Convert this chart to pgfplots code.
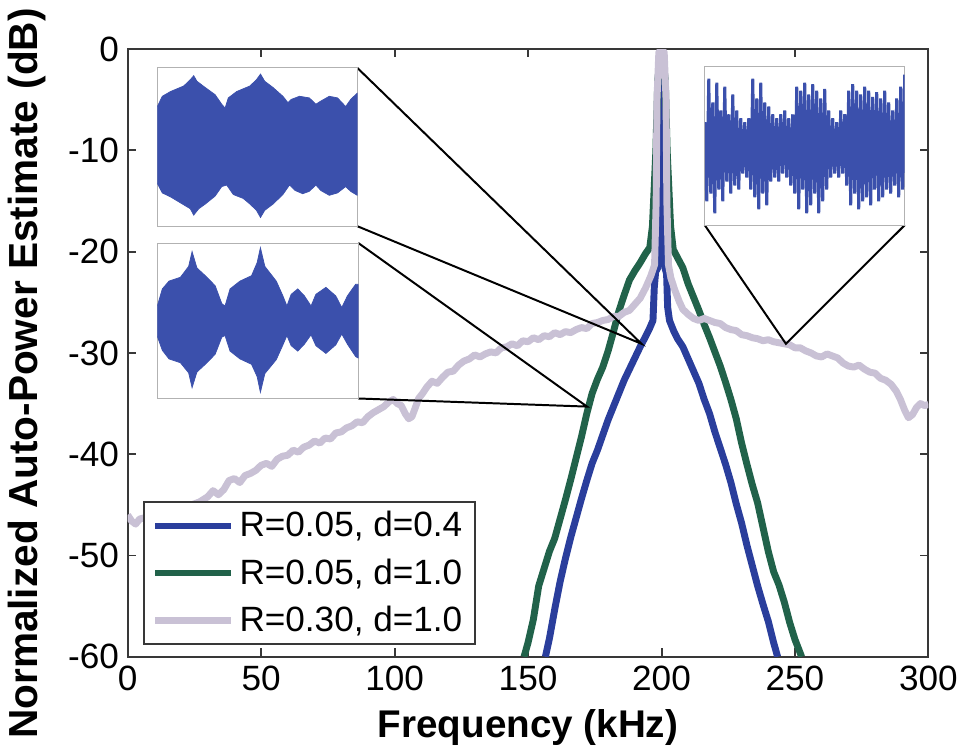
\documentclass[border=0pt]{standalone}
\usepackage{fontspec}
\setmainfont{Liberation Sans}
\usepackage{pgfplots}
\pgfplotsset{compat=1.18}
\definecolor{cblue}{HTML}{2A3E9C}
\definecolor{cgreen}{HTML}{21624A}
\definecolor{clight}{HTML}{C9C1D5}
\definecolor{wave}{HTML}{3B50AC}
\definecolor{axc}{HTML}{383838}

\pgfplotsset{
  inset/.style={scale only axis, width=80.8pt, height=64pt,
    xmin=0, xmax=1, ymin=-1, ymax=1, ticks=none,
    axis line style={black!30, line width=0.4pt},
    axis background/.style={fill=white}},
}

\begin{document}
\begin{tikzpicture}
\begin{axis}[
  scale only axis, width=323.6pt, height=245.6pt,
  xmin=0, xmax=300, ymin=-60, ymax=0,
  xtick={0,50,...,300}, ytick={-60,-50,...,0},
  xticklabels={0,50,100,150,200,250,300},
  yticklabels={-60,-50,-40,-30,-20,-10,0},
  xtick pos=both, ytick pos=both,
  xticklabel pos=lower, yticklabel pos=left,
  tick align=inside, major tick length=3.4pt,
  tick style={axc, line width=0.8pt},
  axis line style={axc, line width=0.8pt},
  tick label style={font=\fontsize{14.2}{16}\selectfont},
  xlabel={Frequency (kHz)}, ylabel={Normalized Auto-Power Estimate (dB)},
  xlabel style={font=\fontsize{15.6}{18}\selectfont\bfseries,
    at={(axis description cs:0.5,0)}, anchor=center, yshift=-28.4pt},
  ylabel style={font=\fontsize{16.4}{18}\selectfont\bfseries,
    at={(axis description cs:0,0.466)}, anchor=center, yshift=40.6pt},
  legend style={at={(axis description cs:0.0198,0.0195)}, anchor=south west,
    draw=axc, line width=0.8pt, fill=white, font=\fontsize{14.2}{16}\selectfont,
    row sep=3.4pt, inner xsep=3pt, inner ysep=1.5pt},
  legend cell align=left,
  legend image code/.code={\draw[#1, line width=2.6pt] (0pt,0pt) -- (30.8pt,0pt);},
]
\addplot[cblue, line width=2.8pt, line join=round] coordinates {
(156.5,-60)(158,-58.2)(160,-55.3)(162,-52.6)(164,-50.3)(166,-48.2)(168,-46.3)(170,-44.4)
(172,-42.6)(174,-40.9)(176,-39.6)(178,-38.1)(180,-36.6)(182,-35.3)(184,-34.0)(186,-32.7)
(188,-31.6)(190,-30.5)(192,-29.4)(194,-28.4)(195.5,-27.6)(196.8,-26.8)(197.3,-23.5)(197.8,-22.0)
(198.6,-21.6)(199.2,-10)(200,0)(200.8,-10)(201.3,-21.6)(201.9,-22.2)(202.3,-25.5)(203,-26.8)
(204.5,-27.8)(206,-28.6)(208,-29.4)(210,-30.6)(212,-31.8)(214,-33.0)(216,-34.6)(218,-36.0)
(220,-37.8)(222,-39.4)(224,-41.0)(226,-42.8)(228,-44.9)(230,-46.8)(232,-49.0)(234,-51.0)
(236,-53.0)(238,-54.8)(240,-56.5)(242,-58.6)(243.5,-60)
};
\addlegendentry{R=0.05, d=0.4}
\addplot[cgreen, line width=2.8pt, line join=round] coordinates {
(148.5,-60)(150,-58.6)(152,-56.3)(154,-53.0)(156,-51.3)(158,-49.6)(160,-48.3)(162,-46.4)
(164,-44.5)(166,-42.5)(168,-40.4)(170,-38.3)(172,-36.0)(174,-34.0)(176,-32.6)(178,-31.4)
(180,-29.8)(182,-27.9)(184,-25.9)(186,-24.3)(188,-22.8)(190,-21.9)(192,-21.1)(194,-20.2)
(195.6,-19.6)(196.6,-17.5)(197.9,-10)(198.6,-3)(200,0)(201.4,-3)(202.1,-10)(203.4,-17.5)
(204.4,-19.8)(206,-20.6)(208,-21.6)(210,-23.2)(212,-24.5)(214,-25.8)(216,-27.2)(218,-28.5)
(220,-29.9)(222,-31.3)(224,-32.9)(226,-34.6)(228,-36.5)(230,-38.9)(232,-41.0)(234,-43.0)
(236,-44.8)(238,-47.2)(240,-49.6)(242,-51.6)(244,-52.9)(246,-54.6)(248,-56.6)(250,-58.3)
(252.5,-60)
};
\addlegendentry{R=0.05, d=1.0}
\addplot[clight, line width=2.8pt, line join=round] coordinates {
(0,-46.0)(1.5,-46.6)(3,-46.9)(4.5,-46.4)(6,-46.3)(9,-46.5)(12,-46.0)(15,-46.2)(18,-45.7)
(21,-45.6)(24,-45.0)(27,-44.7)(30,-44.2)(32,-43.6)(34,-44.0)(36,-43.5)(38,-42.6)(40,-42.4)
(42,-42.8)(44,-42.1)(46,-41.9)(48,-41.6)(50,-41.1)(52,-40.9)(54,-41.2)(56,-40.5)(58,-40.2)
(60,-40.1)(62,-39.6)(64,-39.8)(66,-39.3)(68,-39.1)(70,-38.7)(72,-38.9)(74,-38.4)(76,-38.5)
(78,-37.9)(80,-37.8)(82,-37.4)(84,-37.2)(86,-36.8)(88,-36.9)(90,-36.3)(92,-35.9)(94,-35.6)
(96,-35.3)(98,-34.8)(99.5,-34.6)(101,-35.0)(102.5,-35.2)(104,-36.0)(105.3,-36.5)(106.5,-36.3)
(107.5,-35.6)(109,-34.5)(110.5,-34.0)(112,-33.4)(114,-32.8)(116,-33.0)(118,-32.4)(120,-31.9)
(122,-31.8)(124,-31.2)(126,-30.8)(128,-30.6)(130,-30.2)(132,-30.4)(134,-30.1)(136,-29.9)
(138,-30.0)(140,-29.5)(142,-29.4)(144,-29.1)(146,-29.3)(148,-28.8)(150,-28.9)(152,-28.5)
(154,-28.7)(156,-28.3)(158,-28.4)(160,-28.0)(162,-28.2)(164,-27.9)(166,-28.0)(168,-27.7)
(170,-27.5)(172,-27.6)(174,-27.1)(176,-27.0)(178,-26.8)(180,-26.7)(182,-26.4)(184,-26.4)
(186,-26.0)(188,-25.8)(190,-25.2)(192,-24.6)(194,-23.6)(196,-22.4)(197.4,-21.3)(198.0,-15)
(198.3,-5)(199.0,-0.3)(201.0,-0.3)(201.7,-5)(202.0,-15)(202.6,-21.3)(203.5,-22.6)(205,-23.8)
(206.6,-24.9)(208,-25.7)(210,-26.2)(212,-26.6)(214,-26.8)(216,-26.6)(218,-26.8)(220,-27.0)
(222,-27.1)(224,-27.5)(226,-27.7)(228,-27.8)(230,-28.2)(232,-28.3)(234,-28.5)(236,-28.6)
(238,-28.8)(240,-28.7)(242,-28.9)(244,-29.0)(246,-29.1)(248,-29.2)(250,-29.5)(252,-29.5)
(254,-29.8)(256,-30.0)(258,-30.3)(260,-30.4)(262,-30.1)(264,-30.3)(266,-30.5)(268,-31.0)
(270,-31.3)(272,-31.4)(274,-31.2)(276,-31.6)(278,-31.9)(280,-32.0)(282,-32.5)(284,-32.7)
(286,-33.1)(288,-33.8)(289.5,-34.6)(291,-35.6)(292.5,-36.4)(294,-36.1)(295.5,-35.4)
(297,-35.0)(298.5,-35.2)(300,-35.1)
};
\addlegendentry{R=0.30, d=1.0}
% zoom leader lines
\addplot[black, line width=0.8pt, forget plot] coordinates {(86.03,-1.86)(192.5,-29.1)(86.03,-17.49)};
\addplot[black, line width=0.8pt, forget plot] coordinates {(86.4,-19.15)(172.1,-35.3)(86.4,-34.5)};
\addplot[black, line width=0.8pt, forget plot] coordinates {(216.2,-17.39)(246.6,-29.1)(291.1,-17.39)};
\coordinate (ia) at (axis cs:11.12,-17.49);
\coordinate (ib) at (axis cs:11.12,-34.5);
\coordinate (ic) at (axis cs:216.2,-17.39);
\end{axis}

% inset 1
\begin{axis}[inset, at={(ia)}, anchor=south west]
\addplot[fill=wave, draw=wave, line width=0.3pt] coordinates {
(0,.51)(.025,.64)(.066,.70)(.132,.77)(.165,.85)(.182,.90)(.198,.83)(.240,.75)(.289,.66)
(.322,.54)(.339,.49)(.355,.62)(.397,.70)(.463,.77)(.496,.85)(.516,.92)(.537,.83)(.579,.75)
(.628,.64)(.653,.56)(.669,.60)(.711,.64)(.760,.62)(.793,.54)(.818,.58)(.860,.64)(.901,.62)
(.942,.51)(.967,.60)(1,.68)
(1,-.61)(.967,-.56)(.942,-.50)(.901,-.58)(.860,-.61)(.818,-.55)(.793,-.48)(.760,-.56)
(.727,-.59)(.690,-.55)(.661,-.48)(.628,-.60)(.579,-.72)(.537,-.80)(.516,-.89)(.496,-.80)
(.463,-.72)(.43,-.65)(.38,-.60)(.347,-.48)(.322,-.50)(.289,-.62)(.240,-.72)(.207,-.78)
(.182,-.86)(.165,-.78)(.132,-.73)(.066,-.63)(.025,-.58)(0,-.46)
} -- cycle;
\end{axis}

% inset 2
\begin{axis}[inset, width=81.2pt, height=62.8pt, at={(ib)}, anchor=south west]
\addplot[fill=wave, draw=wave, line width=0.3pt] coordinates {
(0,.19)(.025,.41)(.058,.51)(.115,.56)(.156,.70)(.173,.89)(.197,.68)(.247,.56)(.288,.45)
(.321,.22)(.337,.19)(.362,.41)(.411,.51)(.469,.58)(.497,.75)(.513,.94)(.535,.70)(.592,.51)
(.625,.32)(.645,.19)(.666,.34)(.699,.41)(.732,.32)(.765,.19)(.789,.34)(.839,.43)(.888,.32)
(.918,.17)(.946,.32)(.987,.47)(1,.47)
(1,-.48)(.987,-.46)(.946,-.30)(.918,-.17)(.888,-.31)(.839,-.42)(.789,-.32)(.765,-.18)
(.732,-.30)(.699,-.39)(.666,-.32)(.645,-.19)(.625,-.31)(.592,-.50)(.535,-.68)(.513,-.92)
(.497,-.72)(.469,-.56)(.411,-.49)(.362,-.39)(.337,-.19)(.321,-.21)(.288,-.43)(.247,-.54)
(.197,-.66)(.173,-.86)(.156,-.67)(.115,-.54)(.058,-.49)(.025,-.38)(0,-.20)
} -- cycle;
\end{axis}

% inset 3
\begin{axis}[inset, at={(ic)}, anchor=south west]
\addplot[wave, line width=1.2pt] coordinates {
(0.000,0.30)(0.010,-0.70)(0.020,0.85)(0.030,-0.60)(0.040,0.55)(0.050,-0.85)(0.060,0.80)
(0.070,-0.55)(0.080,0.45)(0.090,-0.70)(0.100,0.75)(0.110,-0.45)(0.120,0.40)(0.130,-0.60)
(0.140,0.65)(0.150,-0.50)(0.160,0.45)(0.170,-0.55)(0.180,0.35)(0.190,-0.35)(0.200,0.30)
(0.210,-0.40)(0.220,0.35)(0.230,-0.55)(0.240,0.85)(0.250,-0.65)(0.260,0.60)(0.270,-0.80)
(0.280,0.80)(0.290,-0.60)(0.300,0.55)(0.310,-0.75)(0.320,0.50)(0.330,-0.45)(0.340,0.40)
(0.350,-0.40)(0.360,0.35)(0.370,-0.45)(0.380,0.40)(0.390,-0.35)(0.400,0.45)(0.410,-0.40)
(0.420,0.35)(0.430,-0.50)(0.440,0.40)(0.450,-0.60)(0.460,0.75)(0.470,-0.80)(0.480,0.70)
(0.490,-0.55)(0.500,0.80)(0.510,-0.85)(0.520,0.65)(0.530,-0.75)(0.540,0.78)(0.550,-0.60)
(0.560,0.70)(0.570,-0.85)(0.580,0.60)(0.590,-0.70)(0.600,0.72)(0.610,-0.55)(0.620,0.45)
(0.630,-0.40)(0.640,0.35)(0.650,-0.35)(0.660,0.30)(0.670,-0.40)(0.680,0.45)(0.690,-0.35)
(0.700,0.40)(0.710,-0.50)(0.720,0.70)(0.730,-0.75)(0.740,0.78)(0.750,-0.60)(0.760,0.70)
(0.770,-0.80)(0.780,0.65)(0.790,-0.70)(0.800,0.75)(0.810,-0.65)(0.820,0.70)(0.830,-0.75)
(0.840,0.62)(0.850,-0.55)(0.860,0.68)(0.870,-0.70)(0.880,0.60)(0.890,-0.65)(0.900,0.70)
(0.910,-0.55)(0.920,0.55)(0.930,-0.60)(0.940,0.45)(0.950,-0.50)(0.960,0.60)(0.970,-0.65)
(0.980,0.75)(0.990,-0.55)(1.000,0.90)
};
\end{axis}
\end{tikzpicture}
\end{document}
